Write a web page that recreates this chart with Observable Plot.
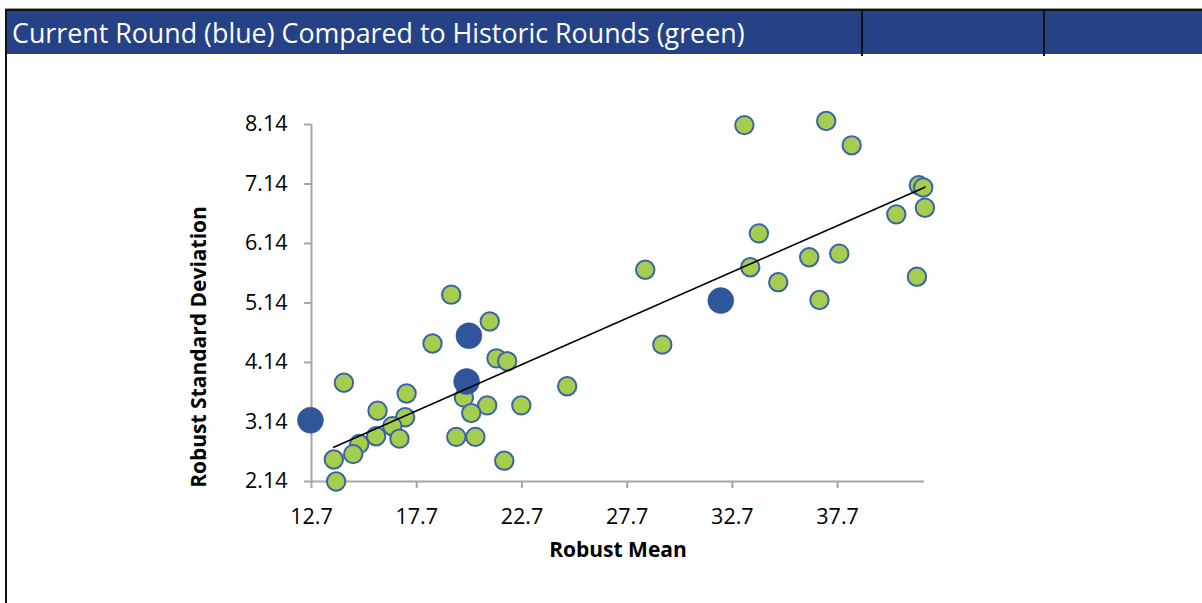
<!DOCTYPE html>
<html>
<head>
<meta charset="utf-8">
<script src="https://cdn.jsdelivr.net/npm/d3@7"></script>
<script src="https://cdn.jsdelivr.net/npm/@observablehq/plot@0.6"></script>
<style>
  html, body { margin: 0; padding: 0; background: #ffffff; }
  #wrap { position: relative; width: 1202px; height: 603px; overflow: hidden; font-family: "Open Sans", sans-serif; }
  #chart { position: absolute; left: 0; top: 0; }
  .hline-gray { position: absolute; left: 5px; top: 7.5px; width: 1197px; height: 1.5px; background: #9a9a9a; }
  .hline-black { position: absolute; left: 5px; top: 9px; width: 1197px; height: 2px; background: #111; }
  .titlebar { position: absolute; left: 7px; top: 10.7px; width: 1195px; height: 43.6px; background: #254287; }
  .titletext { position: absolute; left: 12px; top: 11px; height: 43.6px; line-height: 43.6px; color: #ffffff; font-size: 26.8px; font-family: "Open Sans", sans-serif; white-space: nowrap; }
  .vborder { position: absolute; left: 5px; top: 9px; width: 2.3px; height: 600px; background: #111; }
  .divider { position: absolute; top: 9px; width: 2px; height: 47px; background: #111; }
  .xlabel { position: absolute; left: 548px; width: 140px; top: 535px; text-align: center; font-weight: 700; font-size: 21px; white-space: nowrap; color: #000; }
  .ylabel { position: absolute; left: 198px; top: 347px; transform: translate(-50%, -50%) rotate(-90deg); font-weight: 700; font-size: 21px; white-space: nowrap; color: #000; }
</style>
</head>
<body>
<div id="wrap">
  <div id="chart"></div>
  <div class="hline-gray"></div>
  <div class="hline-black"></div>
  <div class="titlebar"></div>
  <div class="titletext">Current Round (blue) Compared to Historic Rounds (green)</div>
  <div class="vborder"></div>
  <div class="divider" style="left:861px"></div>
  <div class="divider" style="left:1043px"></div>
  <div class="xlabel">Robust Mean</div>
  <div class="ylabel">Robust Standard Deviation</div>
</div>
<script>
// Tick labels
const xTicks = [12.7, 17.7, 22.7, 27.7, 32.7, 37.7];
const yTicks = [2.14, 3.14, 4.14, 5.14, 6.14, 7.14, 8.14];
const xDomain = [12.7, 41.83];
const yDomain = [2.14, 8.14];

// Historic rounds (green)
const greenMean = [
  19.34, 21.17, 18.45, 21.49, 22.00, 14.24, 24.85, 17.22, 19.94, 15.84,
  21.05, 22.67, 20.29, 17.15, 16.54, 15.77, 16.88, 19.58, 20.49, 14.97,
  14.68, 13.76, 21.86, 13.87, 33.27, 37.16, 38.37, 41.56, 41.77, 41.85,
  40.49, 33.96, 28.56, 33.55, 36.35, 37.78, 34.88, 41.47, 36.84, 29.37
];
const greenSD = [
  5.28, 4.83, 4.46, 4.21, 4.16, 3.80, 3.74, 3.62, 3.55, 3.33,
  3.42, 3.42, 3.29, 3.22, 3.07, 2.90, 2.86, 2.89, 2.89, 2.77,
  2.60, 2.51, 2.49, 2.14, 8.13, 8.20, 7.79, 7.12, 7.08, 6.74,
  6.63, 6.31, 5.70, 5.74, 5.91, 5.97, 5.49, 5.58, 5.19, 4.44
];

// Current round (blue)
const blueMean = [20.18, 20.07, 12.65, 32.15];
const blueSD = [4.59, 3.82, 3.17, 5.18];

const green = greenMean.map((m, i) => ({mean: m, sd: greenSD[i]}));
const blue = blueMean.map((m, i) => ({mean: m, sd: blueSD[i]}));

const axisGray = "#a6a6a6";

const chart = Plot.plot({
  width: 1202,
  height: 603,
  marginLeft: 311,
  marginRight: 278,
  marginTop: 124,
  marginBottom: 122,
  x: {domain: xDomain, label: null},
  y: {domain: yDomain, label: null},
  style: {fontFamily: "Open Sans, sans-serif", fontSize: "21.5px", color: "#000", background: "transparent", overflow: "visible"},
  marks: [
    Plot.ruleY([yDomain[0]], {stroke: axisGray, strokeWidth: 2}),
    Plot.ruleX([xDomain[0]], {stroke: axisGray, strokeWidth: 2}),
    Plot.axisX({ticks: xTicks, tickSize: 7, tickPadding: 20, stroke: axisGray, strokeWidth: 2, fill: "#000", fontSize: 21.5, label: null, tickFormat: d => d.toFixed(1)}),
    Plot.axisY({ticks: yTicks, tickSize: 7, tickPadding: 17, stroke: axisGray, strokeWidth: 2, fill: "#000", fontSize: 21.5, label: null, tickFormat: d => d.toFixed(2)}),
    Plot.dot(green, {x: "mean", y: "sd", r: 9.2, fill: "#a5cd4e", stroke: "#3c63a8", strokeWidth: 2}),
    Plot.dot(blue, {x: "mean", y: "sd", r: 13, fill: "#2f559a", stroke: "#2f559a", strokeWidth: 0.5}),
    Plot.linearRegressionY(green, {x: "mean", y: "sd", ci: 0, stroke: "#000", strokeWidth: 1.6})
  ]
});
document.getElementById("chart").appendChild(chart);
</script>
</body>
</html>
